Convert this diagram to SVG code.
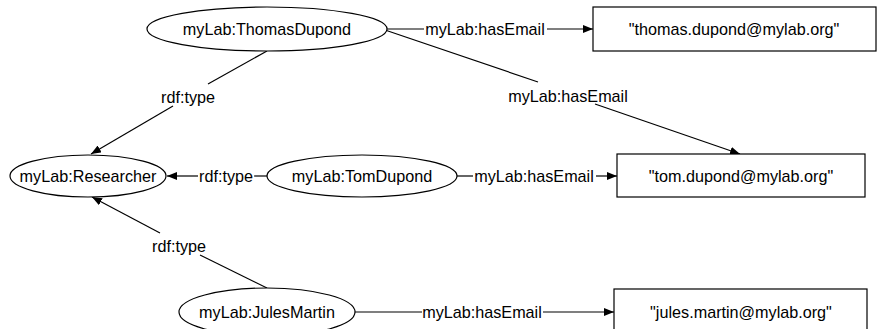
<svg xmlns="http://www.w3.org/2000/svg" width="877" height="329" viewBox="0 0 877 329">
<defs>
<marker id="arr" viewBox="0 0 10 8" refX="10" refY="4" markerWidth="10" markerHeight="8" markerUnits="userSpaceOnUse" orient="auto">
<path d="M0,0 L10,4 L0,8 Z" fill="#000"/>
</marker>
<style>
.n{fill:#fff;stroke:#000;stroke-width:1.2}
.t{font-family:"Liberation Sans",Arial,Helvetica,sans-serif;font-size:16.2px;fill:#000;text-anchor:middle;dominant-baseline:central}
.e{fill:none;stroke:#000;stroke-width:1.2}
</style>
</defs>
<rect width="877" height="329" fill="#fff"/>
<g id="connectors">
<path class="e" d="M387,29 L424,29"/>
<path class="e" d="M547,29 L593,29" marker-end="url(#arr)"/>
<text class="t" x="485" y="29">myLab:hasEmail</text>
<path class="e" d="M385,30 L538,82"/>
<path class="e" d="M595,104 L740,154" marker-end="url(#arr)"/>
<text class="t" x="568" y="96">myLab:hasEmail</text>
<path class="e" d="M267,51 L208,84"/>
<path class="e" d="M173,106 L91,154" marker-end="url(#arr)"/>
<text class="t" x="188" y="97">rdf:type</text>
<path class="e" d="M268,176 L254,176"/>
<path class="e" d="M198,176 L167,176" marker-end="url(#arr)"/>
<text class="t" x="226" y="176">rdf:type</text>
<path class="e" d="M457,176 L473,176"/>
<path class="e" d="M596,176 L617,176" marker-end="url(#arr)"/>
<text class="t" x="534" y="176">myLab:hasEmail</text>
<path class="e" d="M267,288 L200,255"/>
<path class="e" d="M160,233 L92,197" marker-end="url(#arr)"/>
<text class="t" x="179" y="246">rdf:type</text>
<path class="e" d="M355,312 L422,312"/>
<path class="e" d="M543,312 L614,312" marker-end="url(#arr)"/>
<text class="t" x="482" y="312">myLab:hasEmail</text>
</g>
<g id="thomasDupond">
<ellipse class="n" cx="267" cy="29" rx="120" ry="22"/>
<text class="t" x="267" y="29">myLab:ThomasDupond</text>
</g>
<g id="thomasEmail">
<rect class="n" x="593" y="7" width="283" height="44"/>
<text class="t" x="734" y="29">"thomas.dupond@mylab.org"</text>
</g>
<g id="researcher">
<ellipse class="n" cx="88" cy="176" rx="78" ry="21"/>
<text class="t" x="88" y="176">myLab:Researcher</text>
</g>
<g id="tomDupond">
<ellipse class="n" cx="362" cy="176" rx="95" ry="21"/>
<text class="t" x="362" y="176">myLab:TomDupond</text>
</g>
<g id="tomEmail">
<rect class="n" x="617" y="154" width="248" height="43"/>
<text class="t" x="741" y="176">"tom.dupond@mylab.org"</text>
</g>
<g id="julesMartin">
<ellipse class="n" cx="267" cy="312" rx="88" ry="24"/>
<text class="t" x="267" y="312">myLab:JulesMartin</text>
</g>
<g id="julesEmail">
<rect class="n" x="614" y="289" width="253" height="48"/>
<text class="t" x="741" y="312">"jules.martin@mylab.org"</text>
</g>
</svg>
